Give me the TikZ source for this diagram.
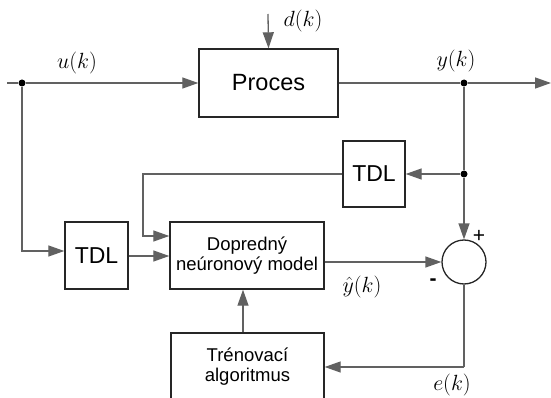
\RequirePackage{fix-cm}
\documentclass[tikz,border=0pt]{standalone}
\usepackage{fontspec}
\setmainfont{Liberation Sans}
\usetikzlibrary{arrows.meta}
\tikzset{
  blk/.style={draw=black!85, line width=1.4pt, inner sep=0pt, align=center, anchor=center},
  ln/.style={draw=black!62, line width=1.3pt},
  arr/.style={ln, -{Triangle[length=16pt,width=11pt]}},
  dotp/.style={circle, fill=black, inner sep=0pt, minimum size=7pt},
  lbl/.style={font=\fontsize{22}{24}\selectfont, inner sep=0pt},
  sgn/.style={font=\fontsize{21}{23}\selectfont, inner sep=0pt}
}
\begin{document}
\begin{tikzpicture}[x=1pt,y=-1pt]
\useasboundingbox (0,0) rectangle (551,398);
\clip (0,0) rectangle (551,398);
% blocks
\node[blk, minimum width=139pt, minimum height=68pt, font=\fontsize{23.5}{26}\selectfont] (proc) at (268.5,83) {Proces};
\node[blk, minimum width=62pt, minimum height=66pt, font=\fontsize{23}{26}\selectfont] (tdla) at (374,174) {TDL};
\node[blk, minimum width=63pt, minimum height=67pt, font=\fontsize{23}{26}\selectfont] (tdlb) at (96.5,255.5) {TDL};
\node[blk, minimum width=154pt, minimum height=67pt, font=\fontsize{18.5}{20}\selectfont] (model) at (247,255.5) {Dopredný\\neúronový model};
\node[blk, minimum width=153pt, minimum height=68pt, font=\fontsize{18.5}{20}\selectfont] (train) at (247.5,367) {Trénovací\\algoritmus};
\node[draw=black!85, line width=1.3pt, circle, minimum size=44pt, inner sep=0pt] (sum) at (464,262) {};
% points
\coordinate (in) at (7,83);
\node[dotp] (du) at (22,83) {};
\node[dotp] (dy) at (464,83) {};
\node[dotp] (dt) at (464,174) {};
\coordinate (out) at (551,83);
\coordinate (dtop) at (268,14);
\coordinate (c1) at (143,174);
\coordinate (c2) at (464,367);
% connectors
\draw[arr] (dtop) -- (proc.north);
\draw[ln] (in) -- (du);
\draw[arr] (du) -- (proc.west);
\draw[ln] (proc.east) -- (dy);
\draw[arr] (dy) -- (out);
\draw[ln] (dy) -- (dt);
\draw[arr] (dt) -- (tdla.east);
\draw[arr] (dt) -- (sum.north);
\draw[arr] (tdla.west) -- (c1) |- (model.west |- 0,236);
\draw[arr] (du) |- (tdlb.west |- 0,251);
\draw[arr] (tdlb.east |- 0,256) -- (model.west |- 0,256);
\draw[arr] (model.east |- sum.west) -- (sum.west);
\draw[ln] (sum.south) -- (c2);
\draw[arr] (c2) -- (train.east |- c2);
\draw[arr] (train.north -| 243,0) -- (model.south -| 243,0);
% labels
\node[lbl] (lu) at (77,63) {$u(k)$};
\node[lbl] (ld) at (303,21) {$d(k)$};
\node[lbl] (ly) at (456,61) {$y(k)$};
\node[lbl] (lyh) at (362,287) {$\hat{y}(k)$};
\node[lbl] (le) at (452,385) {$e(k)$};
\node[sgn] (lm) at (433,282) {\textbf{-}};
\node[sgn] (lp) at (479,236) {+};
\end{tikzpicture}
\end{document}
